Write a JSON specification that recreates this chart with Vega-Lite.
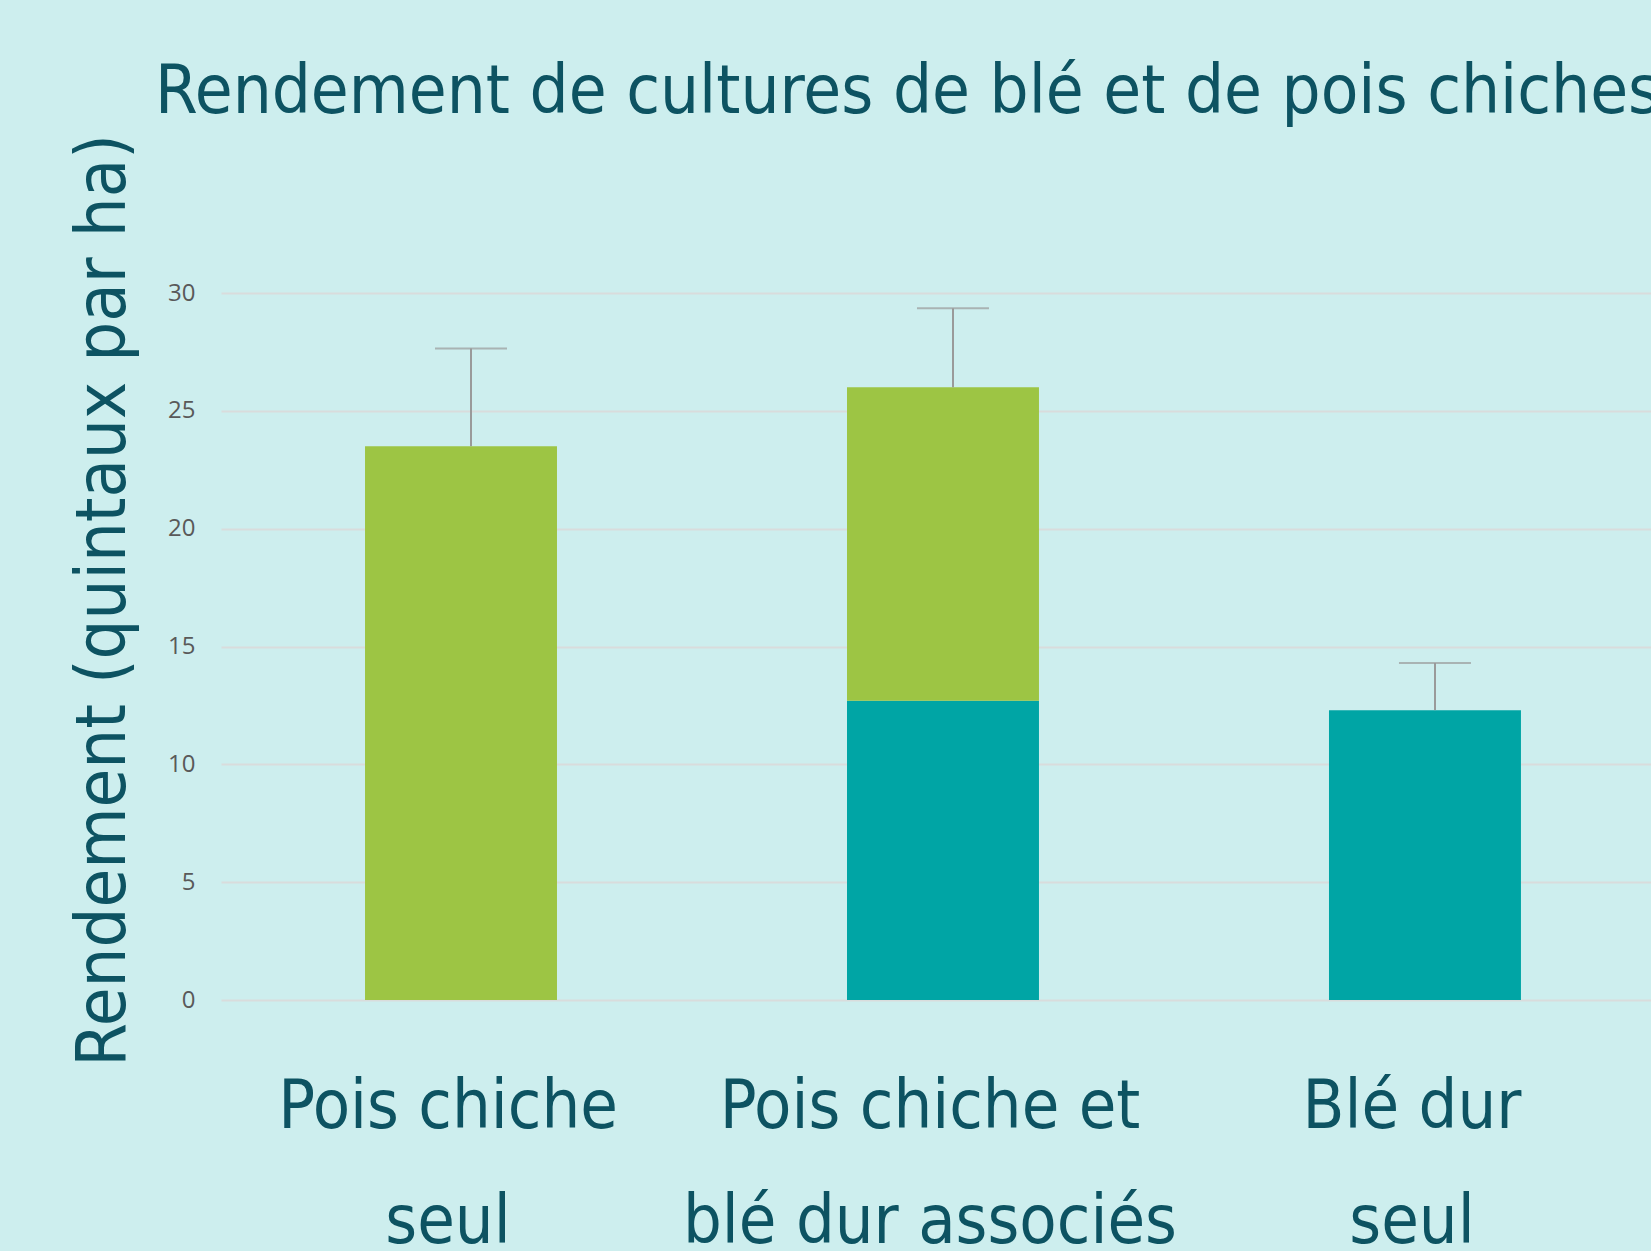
{
  "$schema": "https://vega.github.io/schema/vega-lite/v6.json",
  "autosize": {"type": "none"},
  "padding": {"left": 221, "top": 293, "right": 0, "bottom": 251},
  "width": 1430,
  "height": 707,
  "background": "#cdeeee",
  "config": {"view": {"stroke": null}},
  "title": {
    "text": "Rendement de cultures de blé et de pois chiches",
    "anchor": "start",
    "frame": "group",
    "dx": -66,
    "dy": -6,
    "offset": 0,
    "font": "DejaVu Sans Condensed",
    "fontSize": 68.5,
    "fontWeight": "normal",
    "color": "#0d5362"
  },
  "datasets": {
    "bars": [
      {"traitement": "Pois chiche seul", "culture": "Pois chiche", "ordre": 2, "rendement": 23.5},
      {"traitement": "Pois chiche et blé dur associés", "culture": "Blé dur", "ordre": 1, "rendement": 12.7},
      {"traitement": "Pois chiche et blé dur associés", "culture": "Pois chiche", "ordre": 2, "rendement": 13.3},
      {"traitement": "Blé dur seul", "culture": "Blé dur", "ordre": 1, "rendement": 12.3}
    ],
    "erreurs": [
      {"traitement": "Pois chiche seul", "total": 23.5, "haut": 27.65},
      {"traitement": "Pois chiche et blé dur associés", "total": 26.0, "haut": 29.35},
      {"traitement": "Blé dur seul", "total": 12.3, "haut": 14.3}
    ]
  },
  "encoding": {
    "x": {
      "field": "traitement",
      "type": "nominal",
      "sort": ["Pois chiche seul", "Pois chiche et blé dur associés", "Blé dur seul"],
      "scale": {"paddingInner": 0.6017, "paddingOuter": 0.2843, "align": 0.5255},
      "axis": {
        "title": null,
        "domain": false,
        "ticks": false,
        "labelAngle": 0,
        "labelPadding": 127,
        "labelBaseline": "alphabetic",
        "labelOffset": -13,
        "labelLimit": 1000,
        "labelFont": "DejaVu Sans Condensed",
        "labelFontSize": 68,
        "labelLineHeight": 115,
        "labelColor": "#0d5362",
        "labelExpr": "datum.value == 'Pois chiche seul' ? ['Pois chiche', 'seul'] : datum.value == 'Blé dur seul' ? ['Blé dur', 'seul'] : ['Pois chiche  et', 'blé dur associés']"
      }
    }
  },
  "layer": [
    {
      "data": {"name": "bars"},
      "mark": {"type": "bar"},
      "encoding": {
        "y": {
          "field": "rendement",
          "type": "quantitative",
          "stack": "zero",
          "scale": {"domain": [0, 30], "nice": false},
          "axis": {
            "title": "Rendement (quintaux par ha)",
            "values": [0, 5, 10, 15, 20, 25, 30],
            "domain": false,
            "ticks": false,
            "labelPadding": 26,
            "labelFont": "Open Sans",
            "labelFontSize": 24,
            "labelColor": "#595959",
            "gridColor": "#d9dcdc",
            "gridWidth": 2,
            "titleFont": "DejaVu Sans Condensed",
            "titleFontSize": 70,
            "titleFontWeight": "normal",
            "titleColor": "#0d5362",
            "titleAngle": -90,
            "titleAlign": "center",
            "titleBaseline": "alphabetic",
            "titleX": -97,
            "titleY": 307
          }
        },
        "color": {
          "field": "culture",
          "type": "nominal",
          "scale": {"domain": ["Blé dur", "Pois chiche"], "range": ["#00a5a5", "#9dc544"]},
          "legend": null
        },
        "order": {"field": "ordre", "type": "quantitative"}
      }
    },
    {
      "data": {"name": "erreurs"},
      "mark": {"type": "rule", "color": "#9a9a9a", "strokeWidth": 2, "xOffset": 10},
      "encoding": {
        "y": {"field": "total", "type": "quantitative"},
        "y2": {"field": "haut"}
      }
    },
    {
      "data": {"name": "erreurs"},
      "mark": {"type": "tick", "color": "#9a9a9a", "thickness": 2, "size": 72, "xOffset": 10, "orient": "horizontal"},
      "encoding": {
        "y": {"field": "haut", "type": "quantitative"}
      }
    }
  ]
}
